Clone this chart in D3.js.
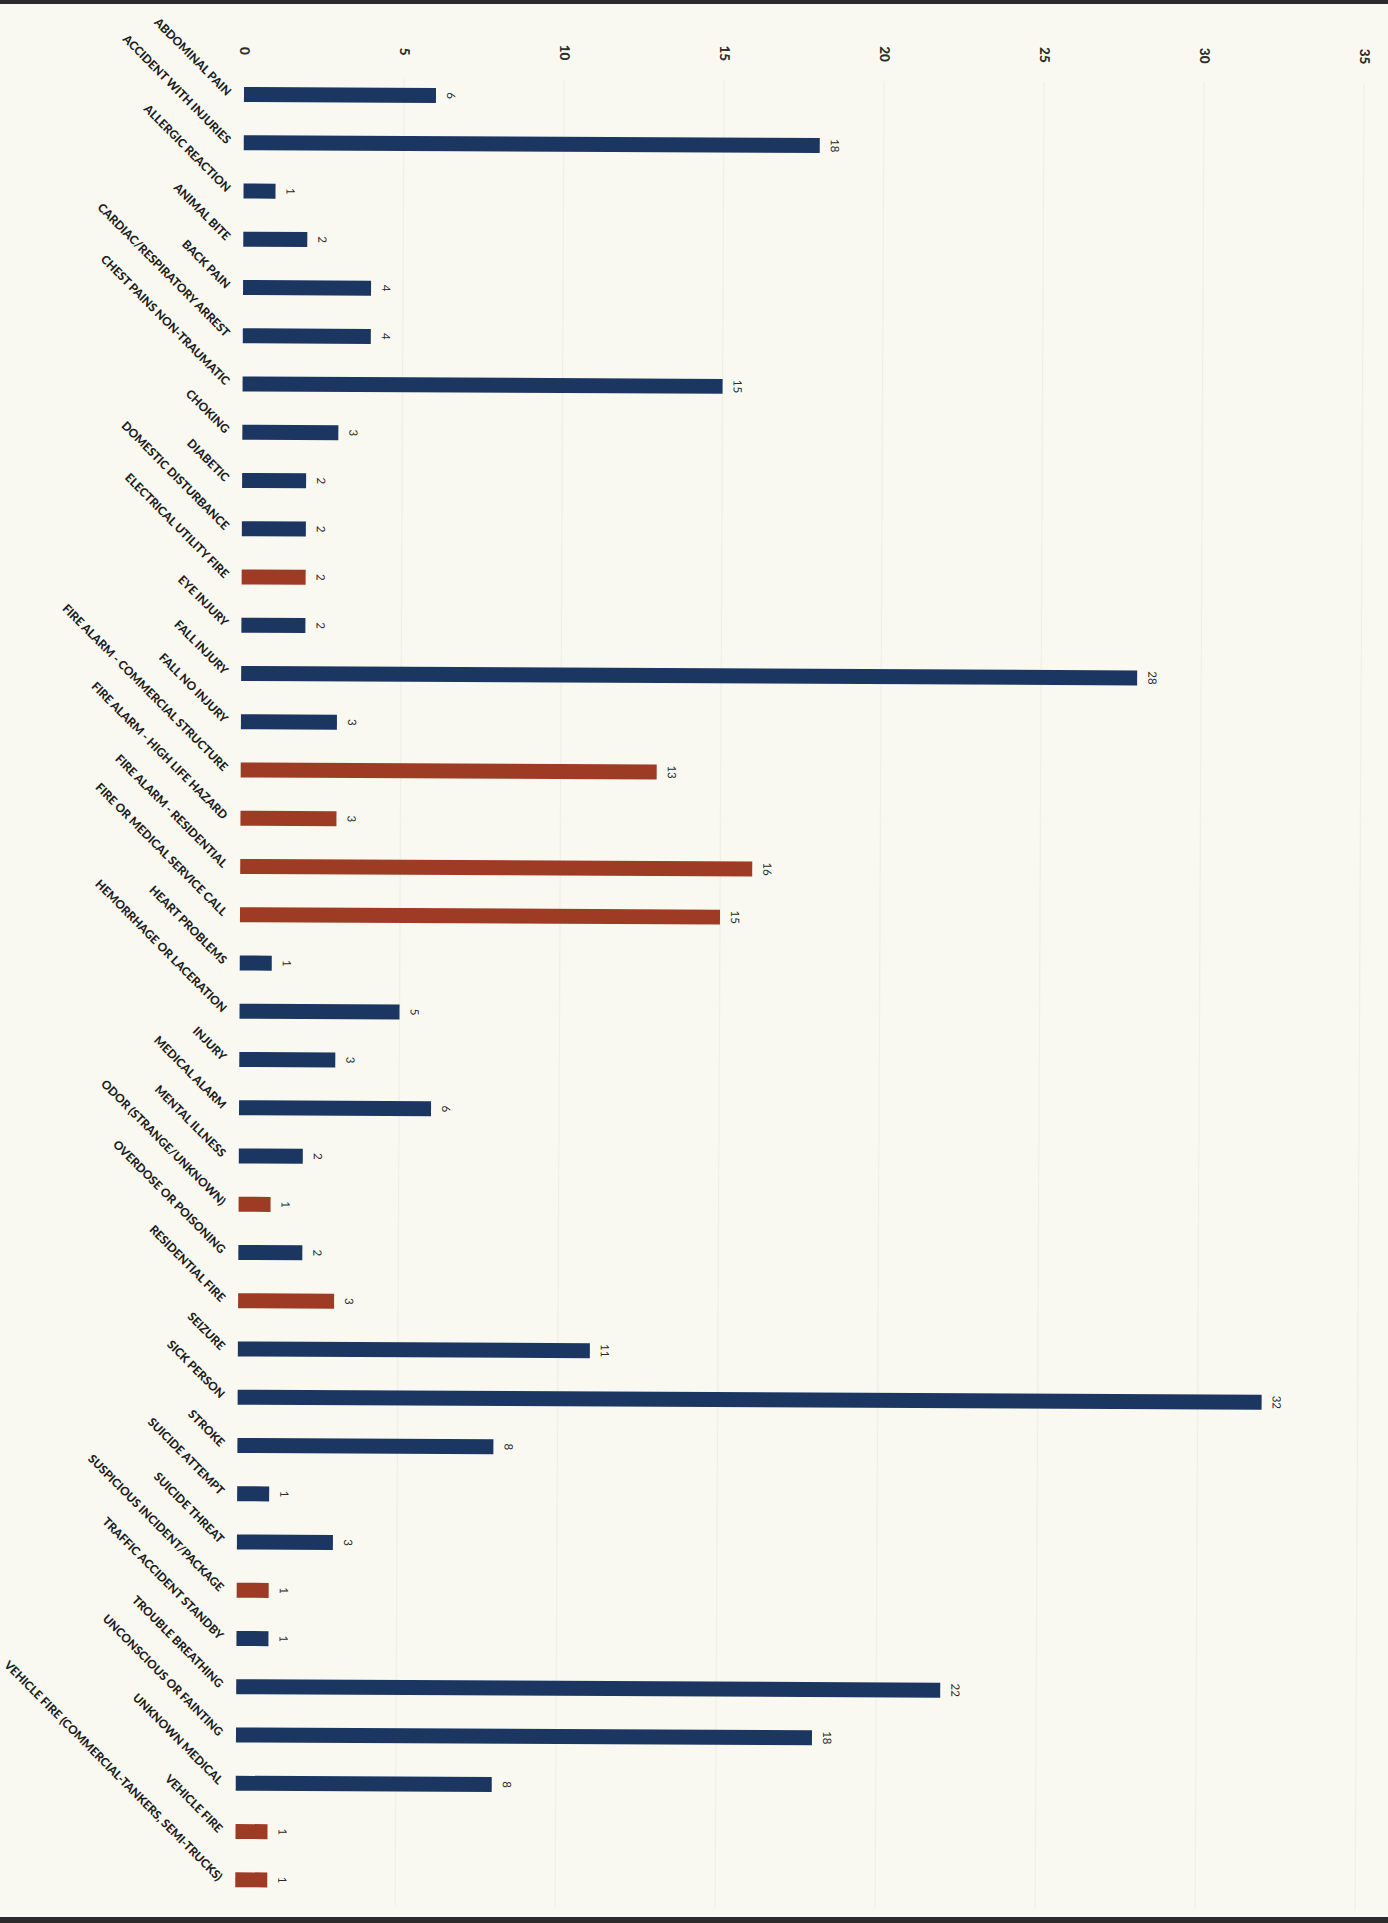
<!DOCTYPE html>
<html>
<head>
<meta charset="utf-8">
<script src="https://cdn.jsdelivr.net/npm/d3@7/dist/d3.min.js"></script>
<style>
  html, body { margin: 0; padding: 0; background: #f9f9f2; }
  svg { display: block; }
</style>
</head>
<body>
<svg id="chart" width="1388" height="1923"></svg>
<script>
// ---- data ----
const categories = [
  "ABDOMINAL PAIN", "ACCIDENT WITH INJURIES", "ALLERGIC REACTION", "ANIMAL BITE",
  "BACK PAIN", "CARDIAC/RESPIRATORY ARREST", "CHEST PAINS NON-TRAUMATIC", "CHOKING",
  "DIABETIC", "DOMESTIC DISTURBANCE", "ELECTRICAL UTILITY FIRE", "EYE INJURY",
  "FALL INJURY", "FALL NO INJURY", "FIRE ALARM - COMMERCIAL STRUCTURE",
  "FIRE ALARM - HIGH LIFE HAZARD", "FIRE ALARM - RESIDENTIAL", "FIRE OR MEDICAL SERVICE CALL",
  "HEART PROBLEMS", "HEMORRHAGE OR LACERATION", "INJURY", "MEDICAL ALARM",
  "MENTAL ILLNESS", "ODOR (STRANGE/UNKNOWN)", "OVERDOSE OR POISONING", "RESIDENTIAL FIRE",
  "SEIZURE", "SICK PERSON", "STROKE", "SUICIDE ATTEMPT", "SUICIDE THREAT",
  "SUSPICIOUS INCIDENT/PACKAGE", "TRAFFIC ACCIDENT STANDBY", "TROUBLE BREATHING",
  "UNCONSCIOUS OR FAINTING", "UNKNOWN MEDICAL", "VEHICLE FIRE",
  "VEHICLE FIRE (COMMERCIAL-TANKERS, SEMI-TRUCKS)"
];
const values = [
  6, 18, 1, 2, 4, 4, 15, 3,
  2, 2, 2, 2,
  28, 3, 13,
  3, 16, 15,
  1, 5, 3, 6,
  2, 1, 2, 3,
  11, 32, 8, 1, 3,
  1, 1, 22,
  18, 8, 1,
  1
];
// call type: "M" = medical / other (blue), "F" = fire (red)
const types = [
  "M", "M", "M", "M", "M", "M", "M", "M",
  "M", "M", "F", "M",
  "M", "M", "F",
  "F", "F", "F",
  "M", "M", "M", "M",
  "M", "F", "M", "F",
  "M", "M", "M", "M", "M",
  "F", "M", "M",
  "M", "M", "F",
  "F"
];
const tickValues = [0, 5, 10, 15, 20, 25, 30, 35];

// ---- chart ----
const W = 1388, H = 1923;
const svg = d3.select("#chart");
const colors = { M: "#1a3661", F: "#9d3b24" };

svg.append("rect").attr("width", W).attr("height", H).attr("fill", "#f9f9f2");
// scan border lines
svg.append("rect").attr("x", 0).attr("y", 0).attr("width", W).attr("height", 4).attr("fill", "#2b2b2b");
svg.append("rect").attr("x", 0).attr("y", H - 6).attr("width", W).attr("height", 6).attr("fill", "#2b2b2b");

const x = d3.scaleLinear().domain([0, 35]).range([244, 1364]);
const y = d3.scaleBand().domain(categories).range([70.4, 1903.9]).paddingInner(0.69).paddingOuter(0.345);

const data = categories.map((c, i) => ({ cat: c, v: values[i], t: types[i] }));

const g = svg.append("g").attr("transform", "rotate(0.28,244,94)");

// gridlines
g.append("g").selectAll("line").data(tickValues.filter(d => d > 0)).join("line")
  .attr("x1", d => x(d)).attr("x2", d => x(d))
  .attr("y1", 78).attr("y2", 1905)
  .attr("stroke", "#f0f0e7").attr("stroke-width", 1.2);

// axis tick labels (rotated)
const axis = d3.axisTop(x).tickValues(tickValues).tickSize(0).tickPadding(0);
const ax = g.append("g").attr("transform", "translate(0,51)").call(axis);
ax.select(".domain").remove();
ax.selectAll("text")
  .attr("transform", "rotate(90)")
  .attr("x", 0).attr("y", 0).attr("dy", "0.35em")
  .attr("text-anchor", "middle")
  .attr("fill", "#2e2e2e")
  .style("font-family", "Lato, 'Open Sans', sans-serif")
  .style("font-weight", "900")
  .style("font-size", "13.5px");

// bars
g.append("g").selectAll("rect").data(data).join("rect")
  .attr("x", x(0))
  .attr("y", d => y(d.cat))
  .attr("width", d => x(d.v) - x(0))
  .attr("height", y.bandwidth())
  .attr("fill", d => colors[d.t]);

// value labels
g.append("g").selectAll("text").data(data).join("text")
  .attr("transform", d => `translate(${x(d.v) + 15},${y(d.cat) + y.bandwidth() / 2}) rotate(90)`)
  .attr("text-anchor", "middle")
  .attr("dy", "0.35em")
  .attr("fill", "#2a2a2a")
  .style("font-family", "Lato, 'Open Sans', sans-serif")
  .style("font-size", "11.5px")
  .text(d => d.v);

// category labels (diagonal)
g.append("g").selectAll("text").data(data).join("text")
  .attr("transform", d => `translate(${x(0) - 15},${y(d.cat) + y.bandwidth() / 2 - 1}) rotate(45)`)
  .attr("text-anchor", "end")
  .attr("dy", "0.35em")
  .attr("fill", "#1e1e1e")
  .style("font-family", "Lato, 'Open Sans', sans-serif")
  .style("font-weight", "900")
  .style("font-size", "11.8px")
  .text(d => d.cat);
</script>
</body>
</html>
